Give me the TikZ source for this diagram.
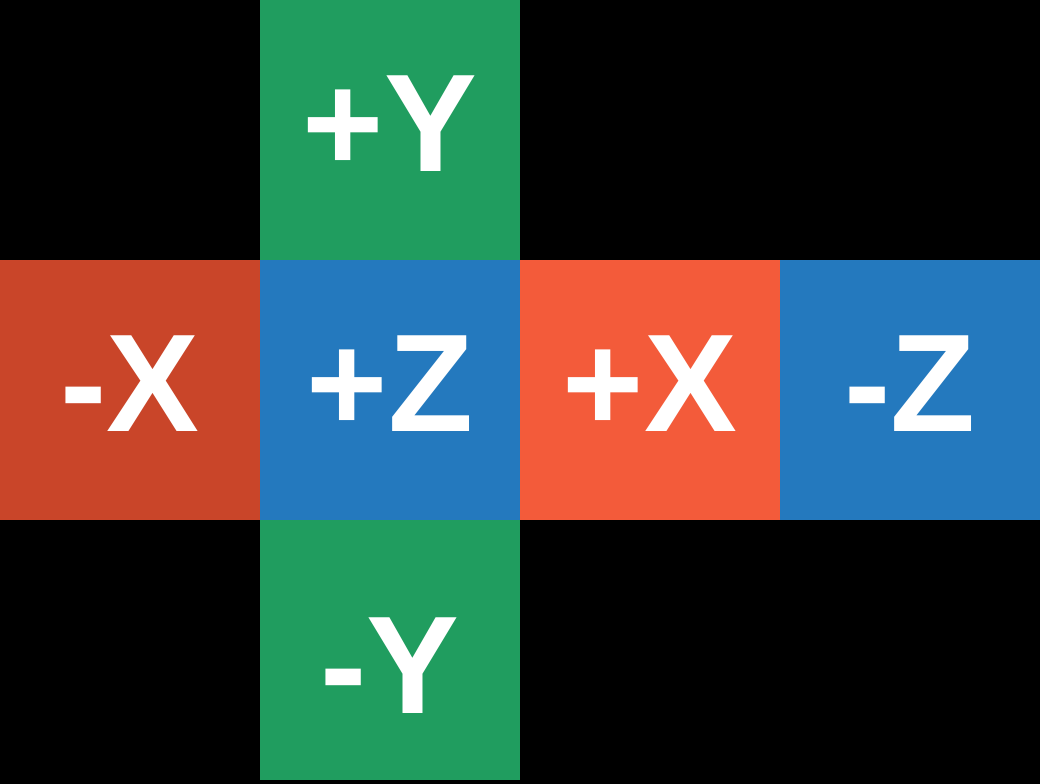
\documentclass[tikz,border=0pt]{standalone}
\usepackage{fontspec}
\setmainfont{Liberation Sans}
\usetikzlibrary{positioning}
\definecolor{facegreen}{RGB}{32,157,95}
\definecolor{faceblue}{RGB}{36,121,190}
\definecolor{facered}{RGB}{201,69,41}
\definecolor{faceorange}{RGB}{243,91,58}

\begin{document}
\begin{tikzpicture}[node distance=0pt,face/.style={minimum size=6.5cm,inner sep=0pt,outer sep=0pt,text=white,text height=2.5cm,text depth=0.4cm,font=\fontsize{99}{99}\selectfont\bfseries}]
\fill[black](-9.75,-9.85)rectangle(16.25,9.75);
\useasboundingbox(-9.75,-9.85)rectangle(16.25,9.75);
\node[face,fill=faceblue](pz){+Z};
\node[face,fill=facered,left=of pz](nx){-X};
\node[face,fill=faceorange,right=of pz](px){+X};
\node[face,fill=faceblue,right=of px](nz){-Z};
\node[face,fill=facegreen,above=of pz](py){+Y};
\node[face,fill=facegreen,below=of pz,text height=3.15cm,text depth=0pt](ny){-Y};
\end{tikzpicture}
\end{document}
